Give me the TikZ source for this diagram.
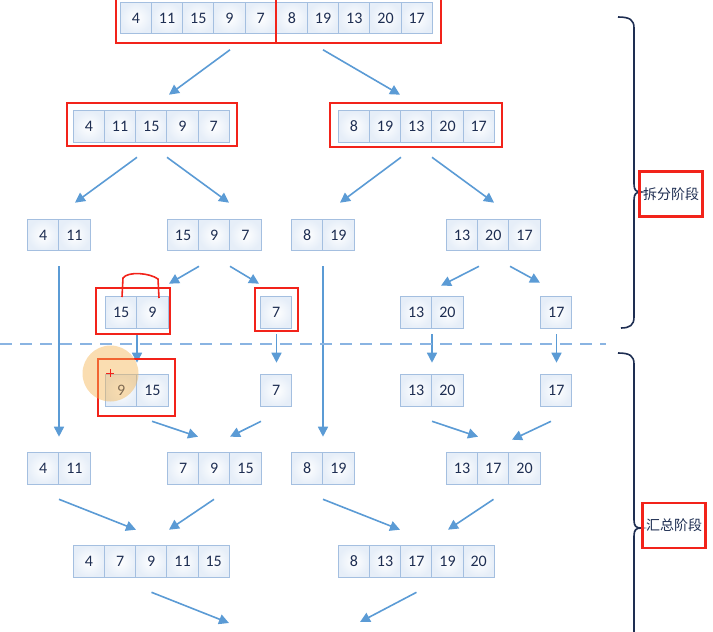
\documentclass[tikz,border=0pt]{standalone}
\usepackage{fontspec}
\setmainfont{Carlito}
\newfontfamily\cjkfont{Noto Sans CJK SC}
\usetikzlibrary{arrows.meta, calc}
\definecolor{msBlue}{HTML}{5B9BD5}
\definecolor{msDash}{HTML}{8AB4E2}
\definecolor{msCellLine}{HTML}{A4BFE0}
\definecolor{msCellBg}{HTML}{E6EEF8}
\definecolor{msNavy}{HTML}{1E2E52}
\definecolor{msRed}{HTML}{F2231A}
\definecolor{msOrange}{HTML}{F4B451}
\tikzset{
  cellbox/.style={rectangle, draw=msCellLine, line width=0.9pt,
    inner color=white, outer color=msCellBg, minimum width=31.2pt,
    minimum height=31.2pt, inner sep=0pt, text=msNavy,
    font=\fontsize{16}{18}\selectfont},
  grpbox/.style={rectangle, inner sep=0pt, minimum height=31.2pt},
  msarrow/.style={-{Triangle[length=10pt,width=10pt]}, line width=1.6pt, msBlue},
  redmark/.style={draw=msRed, line width=2.2pt},
  stagebox/.style={rectangle, draw=msRed, line width=2.2pt, minimum width=63pt,
    minimum height=45pt, inner sep=0pt, text=msNavy,
    font=\cjkfont\fontsize{14}{16}\selectfont},
  bracepath/.style={draw=msNavy, line width=1.6pt}
}
\begin{document}
\begin{tikzpicture}[x=1pt, y=-1pt]
  \useasboundingbox (0,0) rectangle (713,632);
  \clip (0,0) rectangle (713,632);
  % rows of cells
  \foreach \nm/\cx/\cy/\n/\vals in {
      all/276.5/18/10/{4,11,15,9,7,8,19,13,20,17},
      half1/151.5/126.5/5/{4,11,15,9,7},
      half2/416.5/126.5/5/{8,19,13,20,17},
      q1/59/235/2/{4,11},
      q2/214.5/235/3/{15,9,7},
      q3/323/235/2/{8,19},
      q4/493.5/235/3/{13,20,17},
      p1/137/312.5/2/{15,9},
      p2/276.5/312.5/1/{7},
      p3/432/312.5/2/{13,20},
      p4/556.5/312.5/1/{17},
      s1/137/390.5/2/{9,15},
      s2/276.5/390.5/1/{7},
      s3/432/390.5/2/{13,20},
      s4/556.5/390.5/1/{17},
      m1/59/468.5/2/{4,11},
      m2/214.5/468.5/3/{7,9,15},
      m3/323/468.5/2/{8,19},
      m4/493.5/468.5/3/{13,17,20},
      h1/151.5/561.5/5/{4,7,9,11,15},
      h2/416.5/561.5/5/{8,13,17,19,20}}{
    \node[grpbox, minimum width=\n*31.2pt] (\nm) at (\cx,\cy) {};
    \foreach \v [count=\i] in \vals
      \node[cellbox] (\nm-\i) at ([xshift=(\i-0.5)*31.2pt]\nm.west) {\v};
  }

  % split stage
  \draw[msarrow] ([xshift=-46.5pt,yshift=-16pt]all.south) -- ([xshift=17.5pt,yshift=16pt]half1.north);
  \draw[msarrow] ([xshift=46.5pt,yshift=-16pt]all.south) -- ([xshift=-16.5pt,yshift=16pt]half2.north);
  \draw[msarrow] ([xshift=-14.5pt,yshift=-15pt]half1.south) -- ([xshift=16pt,yshift=16.5pt]q1.north);
  \draw[msarrow] ([xshift=15.5pt,yshift=-15pt]half1.south) -- ([xshift=14.5pt,yshift=16.5pt]q2.north);
  \draw[msarrow] ([xshift=-15.5pt,yshift=-15pt]half2.south) -- ([xshift=17pt,yshift=16.5pt]q3.north);
  \draw[msarrow] ([xshift=15.5pt,yshift=-15pt]half2.south) -- ([xshift=0.5pt,yshift=16.5pt]q4.north);
  \draw[msarrow] ([xshift=-15.5pt,yshift=-15.5pt]q2.south) -- ([xshift=32pt,yshift=13pt]p1.north);
  \draw[msarrow] ([xshift=15.5pt,yshift=-15.5pt]q2.south) -- ([xshift=-17.5pt,yshift=13pt]p2.north);
  \draw[msarrow] ([xshift=-14.5pt,yshift=-15.5pt]q4.south) -- ([xshift=9pt,yshift=11pt]p3.north);
  \draw[msarrow] ([xshift=16.5pt,yshift=-15.5pt]q4.south) -- ([xshift=-16.5pt,yshift=14pt]p4.north);
  \draw[msarrow] ([yshift=-15.5pt]q1.south) -- ([yshift=16pt]m1.north);
  \draw[msarrow] ([yshift=-15.5pt]q3.south) -- ([yshift=16pt]m3.north);

  % merge stage
  \foreach \a/\b in {p1/s1, p2/s2, p3/s3, p4/s4}
    \draw[msarrow] ([yshift=-6pt]\a.south) -- ([yshift=12pt]\b.north);
  \draw[msarrow] ([xshift=15pt,yshift=-15pt]s1.south) -- ([xshift=-16.5pt,yshift=16pt]m2.north);
  \draw[msarrow] ([xshift=-15.5pt,yshift=-15pt]s2.south) -- ([xshift=15.5pt,yshift=16pt]m2.north);
  \draw[msarrow] ([yshift=-15pt]s3.south) -- ([xshift=-15.5pt,yshift=16pt]m4.north);
  \draw[msarrow] ([xshift=-5.5pt,yshift=-15pt]s4.south) -- ([xshift=18.5pt,yshift=13pt]m4.north);
  \draw[msarrow] ([yshift=-15pt]m1.south) -- ([xshift=-15.5pt,yshift=16pt]h1.north);
  \draw[msarrow] ([xshift=-0.5pt,yshift=-15pt]m2.south) -- ([xshift=17.5pt,yshift=16pt]h1.north);
  \draw[msarrow] ([yshift=-15pt]m3.south) -- ([xshift=-16.5pt,yshift=16pt]h2.north);
  \draw[msarrow] ([yshift=-15pt]m4.south) -- ([xshift=31.5pt,yshift=16pt]h2.north);
  \coordinate (out1) at (229,623);
  \coordinate (out2) at (360,622);
  \draw[msarrow] ([yshift=-15pt]h1.south) -- (out1);
  \draw[msarrow] ([yshift=-15pt]h2.south) -- (out2);

  % stage divider
  \draw[msDash, line width=2pt, dash pattern=on 12pt off 8pt] (0,344) -- (606,344);

  % red marks
  \draw[redmark] (116,-4) rectangle (276,43);
  \draw[redmark] (276,-4) rectangle (441,43);
  \draw[redmark] (67,103) rectangle (237,146);
  \draw[redmark] (330,103) rectangle (502,147);
  \draw[redmark] (96,288) rectangle (170,334);
  \draw[redmark] (255,288) rectangle (298,331);
  \draw[redmark] (98,359) rectangle (175,416);
  \draw[msRed, line width=1.6pt] (122,297) -- (123,278)
    .. controls (128,271) and (150,273) .. (158,279) -- (159,298);

  % pointer
  \fill[msOrange, opacity=0.45] (110.5,373.5) circle[radius=28pt];
  \draw[msRed, line width=1pt] (106,373) -- (114,373) (110,369) -- (110,377);

  % braces and stage labels
  \draw[bracepath] (618,17) .. controls (630,17) and (634,20) .. (634,28)
    -- (634,184) .. controls (634,190) and (636,192) .. (641,192)
    .. controls (636,192) and (634,194) .. (634,200)
    -- (634,317) .. controls (634,325) and (630,328) .. (621,328);
  \draw[bracepath] (618,353) .. controls (630,353) and (634,356) .. (634,364)
    -- (634,520) .. controls (634,526) and (636,528) .. (641,528)
    .. controls (636,528) and (634,530) .. (634,536) -- (634,640);
  \node[stagebox] (split) at (671,194) {拆分阶段};
  \node[stagebox] (merge) at (674,525.5) {汇总阶段};
\end{tikzpicture}
\end{document}
